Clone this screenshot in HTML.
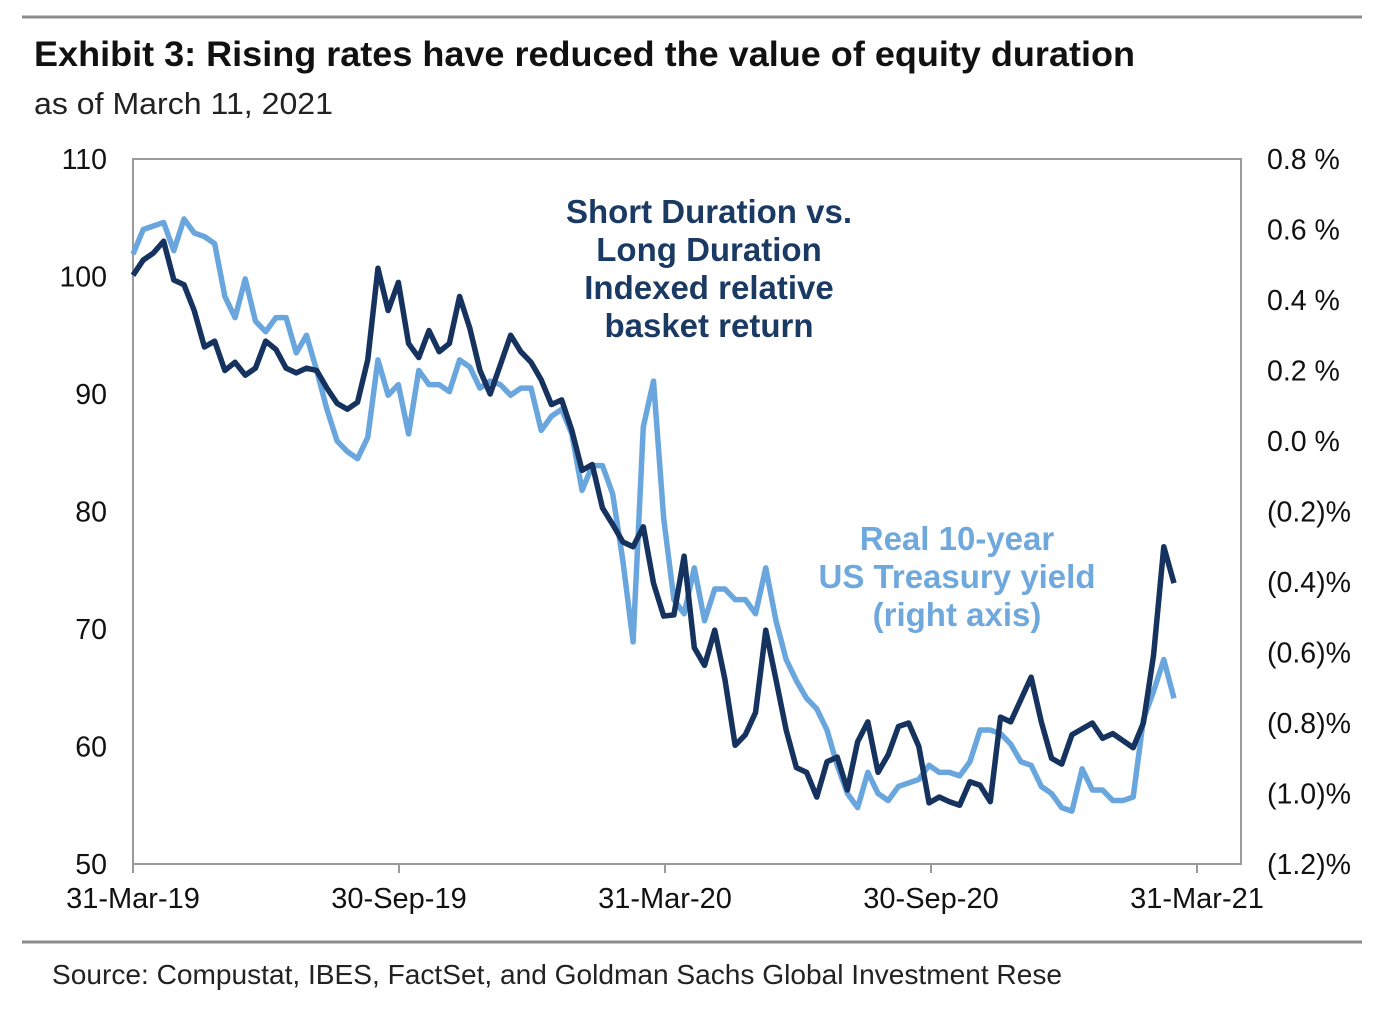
<!DOCTYPE html>
<html><head><meta charset="utf-8"><style>
body{margin:0;background:#fff;width:1378px;height:1016px;overflow:hidden;font-family:"Liberation Sans",Arial,sans-serif}
</style></head><body>
<svg width="1378" height="1016" xmlns="http://www.w3.org/2000/svg" font-family="Liberation Sans, Arial, sans-serif">
<line x1="22" y1="17" x2="1362" y2="17" stroke="#8c8c8c" stroke-width="3"/>
<text x="34" y="66" font-size="35.5" font-weight="bold" fill="#111" textLength="1101" lengthAdjust="spacingAndGlyphs">Exhibit 3: Rising rates have reduced the value of equity duration</text>
<text x="34" y="114" font-size="31" fill="#222" textLength="299" lengthAdjust="spacingAndGlyphs">as of March 11, 2021</text>
<rect x="133" y="159" width="1108" height="705" fill="none" stroke="#9a9a9a" stroke-width="2"/>
<g id="axes"></g>
<g id="series"></g>
<g font-size="33" font-weight="bold" fill="#1b3a63" text-anchor="middle">
<text x="709" y="223">Short Duration vs.</text><text x="709" y="261">Long Duration</text><text x="709" y="299">Indexed relative</text><text x="709" y="337">basket return</text></g>
<g font-size="33" font-weight="bold" fill="#6fa8dc" text-anchor="middle">
<text x="957" y="550">Real 10-year</text><text x="957" y="588">US Treasury yield</text><text x="957" y="626">(right axis)</text></g>
<line x1="22" y1="942" x2="1362" y2="942" stroke="#8c8c8c" stroke-width="3"/>
<text x="52" y="984" font-size="28" fill="#222" textLength="1010" lengthAdjust="spacingAndGlyphs">Source: Compustat, IBES, FactSet, and Goldman Sachs Global Investment Rese</text>
</svg>
<script>
const leftTicks=[110,100,90,80,70,60,50];
const rightTicks=[0.8,0.6,0.4,0.2,0.0,-0.2,-0.4,-0.6,-0.8,-1.0,-1.2];
const xTickLabels=["31-Mar-19","30-Sep-19","31-Mar-20","30-Sep-20","31-Mar-21"];
const relReturn=[100.1,101.4,102,103,99.7,99.3,97.1,94,94.5,92,92.7,91.6,92.2,94.5,93.8,92.2,91.8,92.2,92,90.5,89.2,88.7,89.3,92.9,100.7,97.1,99.5,94.3,93.1,95.4,93.6,94.3,98.3,95.6,92,90,92.5,95,93.6,92.7,91.2,89.1,89.5,86.9,83.5,84,80.3,78.9,77.4,77,78.7,73.9,71.1,71.2,76.2,68.4,66.9,69.9,65.7,60.1,61,62.9,69.9,65.7,61.4,58.2,57.8,55.7,58.7,59.1,56.3,60.4,62.1,57.8,59.3,61.7,62,60,55.2,55.7,55.3,55,57,56.7,55.3,62.5,62.1,64,65.9,62.1,59,58.5,61,61.5,62,60.7,61.1,60.5,59.9,62,67.8,77,73.9];
const realYield=[0.53,0.60,0.61,0.62,0.54,0.63,0.59,0.58,0.56,0.41,0.35,0.46,0.34,0.31,0.35,0.35,0.25,0.30,0.20,0.09,0.00,-0.03,-0.05,0.01,0.23,0.13,0.16,0.02,0.20,0.16,0.16,0.14,0.23,0.21,0.15,0.17,0.16,0.13,0.15,0.15,0.03,0.07,0.09,0.02,-0.14,-0.07,-0.07,-0.15,-0.34,-0.57,0.04,0.17,-0.22,-0.45,-0.49,-0.36,-0.51,-0.42,-0.42,-0.45,-0.45,-0.49,-0.36,-0.51,-0.62,-0.68,-0.73,-0.76,-0.82,-0.92,-1.00,-1.04,-0.94,-1.0,-1.02,-0.98,-0.97,-0.96,-0.92,-0.94,-0.94,-0.95,-0.91,-0.82,-0.82,-0.83,-0.86,-0.91,-0.92,-0.98,-1.00,-1.04,-1.05,-0.93,-0.99,-0.99,-1.02,-1.02,-1.01,-0.79,-0.71,-0.62,-0.73];
const NS="http://www.w3.org/2000/svg";
const X0=133,X1=1241,Y0=864,Y1=159,XEND=1174;
const yL=v=>Y0-(v-50)/60*(Y0-Y1);
const yR=v=>Y0-(v+1.2)/2.0*(Y0-Y1);
const xTick=i=>X0+i*266;
const xIdx=(i,n)=>X0+i*(XEND-X0)/(n-1);
const axes=document.getElementById('axes');
function mk(tag,attrs,parent){const e=document.createElementNS(NS,tag);for(const k in attrs)e.setAttribute(k,attrs[k]);parent.appendChild(e);return e;}
const fmtR=v=>{const s=Math.abs(v).toFixed(1);return v<0?"("+s+")%":s+" %";};
leftTicks.forEach(v=>{const t=mk('text',{x:107,y:yL(v)+10,'font-size':28.5,'text-anchor':'end',fill:'#111'},axes);t.textContent=v;

});
rightTicks.forEach(v=>{const t=mk('text',{x:1267,y:yR(v)+10,'font-size':28.5,fill:'#111'},axes);t.textContent=fmtR(v);

});
xTickLabels.forEach((s,i)=>{const x=xTick(i);const l=mk('line',{x1:x,y1:Y0,x2:x,y2:Y0+9,stroke:'#9a9a9a','stroke-width':2},axes);


const t=mk('text',{x:x,y:908,'font-size':29,'text-anchor':'middle',fill:'#111'},axes);t.textContent=s;

});
const ser=document.getElementById('series');
const p2=mk('polyline',{points:realYield.map((v,i)=>xIdx(i,realYield.length)+','+yR(v)).join(' '),fill:'none',stroke:'#6aa6de','stroke-width':5.5,'stroke-linejoin':'round'},ser);


const p1=mk('polyline',{points:relReturn.map((v,i)=>xIdx(i,relReturn.length)+','+yL(v)).join(' '),fill:'none',stroke:'#15335e','stroke-width':5.5,'stroke-linejoin':'round'},ser);


</script>
</body></html>
